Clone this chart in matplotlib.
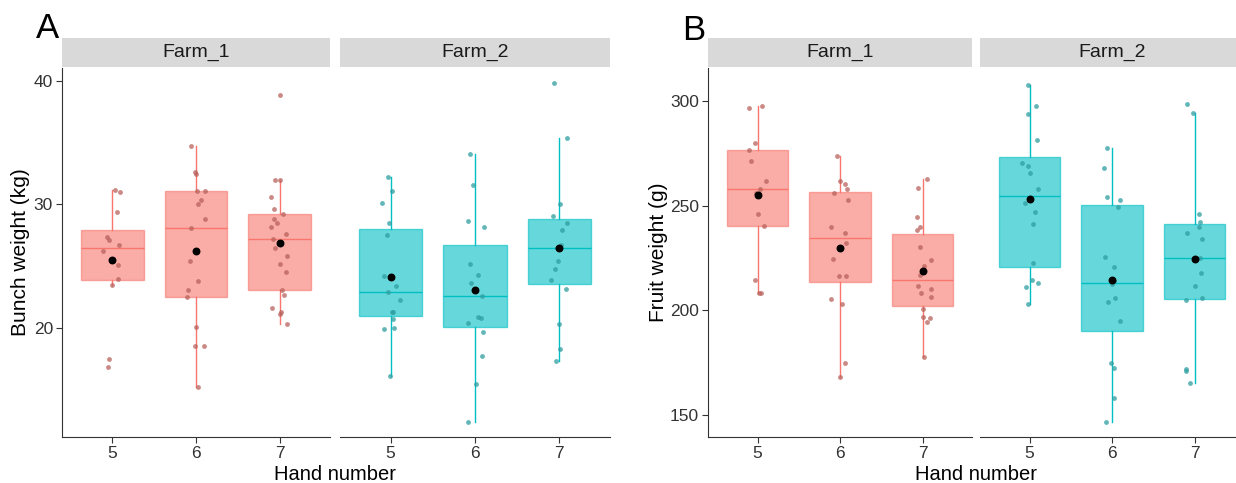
import numpy as np
import matplotlib
matplotlib.use("Agg")
import matplotlib.pyplot as plt

plt.rcParams['font.family'] = ['Liberation Sans', 'DejaVu Sans']

hands = ['5', '6', '7']
farms = ['Farm_1', 'Farm_2']

# Bunch weight (kg), panel A
bunch_f1_h5 = [31.2, 31.0, 29.4, 27.4, 27.1, 26.7, 26.2, 25.1, 24.0, 23.5, 17.5, 16.8]
bunch_f1_h6 = [34.7, 32.6, 32.5, 31.1, 31.1, 30.4, 30.0, 28.8, 28.1, 25.4, 23.8,
               23.1, 22.5, 20.1, 18.5, 18.5, 15.2]
bunch_f1_h7 = [38.9, 32.0, 32.0, 30.6, 29.6, 29.2, 28.8, 28.5, 28.2, 27.6, 27.2,
               26.45, 25.8, 25.2, 24.5, 23.1, 22.7, 21.6, 21.3, 21.1, 20.3]
bunch_f2_h5 = [32.2, 31.1, 30.1, 28.5, 27.5, 24.2, 23.4, 22.9, 22.3, 21.3, 21.3,
               20.7, 20.0, 19.9, 16.1]
bunch_f2_h6 = [34.1, 31.6, 28.7, 28.2, 25.2, 24.3, 23.6, 22.6, 20.9, 20.4, 20.8,
               19.7, 17.7, 15.5, 12.4]
bunch_f2_h7 = [39.8, 35.4, 30.0, 29.1, 28.5, 27.9, 26.7, 26.45, 25.4, 24.75, 23.9,
               23.15, 20.3, 18.3, 17.3]

# Fruit weight (g), panel B
fruit_f1_h5 = [297.6, 297.0, 279.8, 276.6, 271.5, 262.0, 258.0, 255.9, 246.3, 240.3,
               214.5, 208.1, 208.1]
fruit_f1_h6 = [273.7, 261.9, 260.3, 257.8, 255.9, 253.0, 240.0, 237.0, 232.3, 224.5,
               216.4, 216.4, 205.3, 203.0, 174.7, 168.3]
fruit_f1_h7 = [263.0, 258.3, 244.7, 240.0, 238.4, 230.4, 224.0, 221.0, 217.0, 211.6,
               210.0, 208.1, 206.5, 200.5, 196.7, 196.2, 194.6, 177.9]
fruit_f2_h5 = [308.0, 297.6, 294.1, 281.4, 270.5, 269.1, 265.5, 257.8, 251.4, 247.1,
               241.2, 222.5, 214.5, 213.2, 211.3, 202.9]
fruit_f2_h6 = [277.7, 268.3, 254.0, 253.0, 249.5, 225.6, 220.8, 212.5, 214.0, 205.7,
               204.1, 195.0, 175.0, 172.3, 158.2, 146.8]
fruit_f2_h7 = [298.6, 294.4, 245.9, 242.3, 240.0, 236.8, 233.9, 225.0, 217.7, 211.6,
               206.0, 204.9, 171.8, 171.0, 165.4]

fill_colors = {'Farm_1': '#F8766D', 'Farm_2': '#00BFC4'}
dot_colors = {'Farm_1': '#B8615B', 'Farm_2': '#2E9EA0'}

W, H = 1236, 483
fig = plt.figure(figsize=(W / 100, H / 100), dpi=100)
rng = np.random.default_rng(7)


def px_axes(x0, x1, y0, y1):
    # pixel box -> figure axes
    return fig.add_axes([x0 / W, 1 - y1 / H, (x1 - x0) / W, (y1 - y0) / H])


def facet(x0, x1, groups, farm, ylim, yticks, first):
    ax = px_axes(x0, x1, 68, 437)
    col = fill_colors[farm]
    pos = [1, 2, 3]
    bp = ax.boxplot(groups, positions=pos, widths=0.75, patch_artist=True,
                    showfliers=False, showcaps=False, zorder=2)
    for b in bp['boxes']:
        b.set_facecolor(col)
        b.set_alpha(0.6)
        b.set_edgecolor(col)
        b.set_linewidth(1.0)
    for k in ['whiskers', 'medians']:
        for ln in bp[k]:
            ln.set_color(col)
            ln.set_linewidth(1.0)
    for p, g in zip(pos, groups):
        xs = p + rng.uniform(-0.11, 0.11, len(g))
        ax.scatter(xs, g, s=12, color=dot_colors[farm], alpha=0.75,
                   linewidths=0, zorder=3)
        ax.scatter([p], [np.mean(g)], s=22, color='black', zorder=4)
    ax.set_xlim(0.4, 3.6)
    ax.set_ylim(*ylim)
    ax.set_xticks(pos)
    ax.set_xticklabels(hands, fontsize=12.5, color='#333333')
    ax.set_yticks(yticks)
    ax.tick_params(length=4, width=0.8, color='#333333', pad=2.5)
    for s in ['top', 'right']:
        ax.spines[s].set_visible(False)
    ax.spines['bottom'].set_color('#333333')
    ax.spines['left'].set_color('#333333')
    if first:
        ax.set_yticklabels([str(t) for t in yticks], fontsize=12.5, color='#333333')
    else:
        ax.spines['left'].set_visible(False)
        ax.tick_params(axis='y', left=False, labelleft=False)
    ax.patch.set_alpha(0)
    st = px_axes(x0, x1, 38, 67)
    st.set_facecolor('#D9D9D9')
    st.set_xticks([])
    st.set_yticks([])
    for s in st.spines.values():
        s.set_visible(False)
    st.text(0.5, 0.5, farm, ha='center', va='center', fontsize=14, color='#1A1A1A',
            transform=st.transAxes)
    return ax


ylim_a = (11.17, 41.05)
ylim_b = (139.4, 315.9)

facet(62, 330, [bunch_f1_h5, bunch_f1_h6, bunch_f1_h7], 'Farm_1', ylim_a, [20, 30, 40], True)
facet(340, 610, [bunch_f2_h5, bunch_f2_h6, bunch_f2_h7], 'Farm_2', ylim_a, [20, 30, 40], False)
facet(708, 972, [fruit_f1_h5, fruit_f1_h6, fruit_f1_h7], 'Farm_1', ylim_b, [150, 200, 250, 300], True)
facet(980, 1244, [fruit_f2_h5, fruit_f2_h6, fruit_f2_h7], 'Farm_2', ylim_b, [150, 200, 250, 300], False)

fig.text(21 / W, 1 - 252 / H, 'Bunch weight (kg)', rotation=90, ha='center', va='center', fontsize=15)
fig.text(659 / W, 1 - 252 / H, 'Fruit weight (g)', rotation=90, ha='center', va='center', fontsize=15)
fig.text(335 / W, 1 - 475 / H, 'Hand number', ha='center', va='center', fontsize=14.5)
fig.text(976 / W, 1 - 475 / H, 'Hand number', ha='center', va='center', fontsize=14.5)
fig.text(47 / W, 1 - 28 / H, 'A', ha='center', va='center', fontsize=25)
fig.text(694 / W, 1 - 31 / H, 'B', ha='center', va='center', fontsize=25)

fig.savefig('out.png', dpi=100)
